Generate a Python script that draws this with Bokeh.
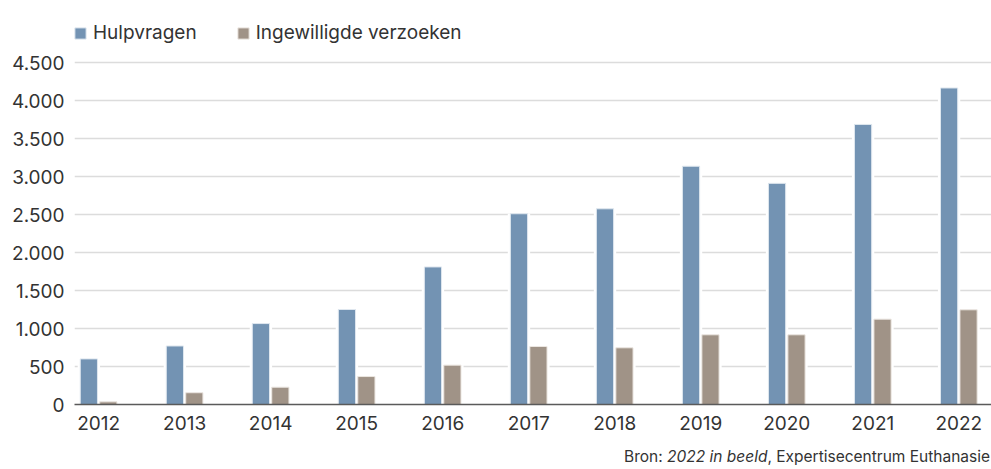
from bokeh.plotting import figure
from bokeh.models import (ColumnDataSource, Range1d, FixedTicker, Legend, LegendItem, Div)
from bokeh.layouts import column
from bokeh.transform import dodge
from bokeh.embed import file_html
from bokeh.resources import INLINE

years = [2012, 2013, 2014, 2015, 2016, 2017, 2018, 2019, 2020, 2021, 2022]
hulpvragen = [600, 770, 1065, 1250, 1810, 2510, 2575, 3135, 2910, 3685, 4165]
ingewilligd = [35, 155, 228, 368, 518, 763, 746, 917, 917, 1123, 1246]
y_ticks = [0, 500, 1000, 1500, 2000, 2500, 3000, 3500, 4000, 4500]
y_tick_labels = ["0", "500", "1.000", "1.500", "2.000", "2.500", "3.000", "3.500", "4.000", "4.500"]
series_names = ["Hulpvragen", "Ingewilligde verzoeken"]
source_html = "Bron: <i>2022 in beeld</i>, Expertisecentrum Euthanasie"

BLUE = "#7393b3"
BROWN = "#a09387"
TEXT = "#333333"
FONT = "Inter"
FS = "19px"

src = ColumnDataSource(dict(year=years, hulp=hulpvragen, ingew=ingewilligd))

# frame spans from the canvas top down to the x axis; space above 4.500 holds the legend
p = figure(width=991, height=440, output_backend="svg", toolbar_location=None,
           x_range=Range1d(2011.72, 2022.38), y_range=Range1d(0, 5316),
           min_border_left=74, min_border_right=0, min_border_top=0, min_border_bottom=36)
p.outline_line_color = None
p.background_fill_color = "white"
p.border_fill_color = "white"

# white backing to break gridlines around bars
for off, col in [(-0.113, "hulp"), (0.113, "ingew")]:
    p.vbar(x=dodge("year", off, range=p.x_range), top=col, width=0.26, bottom=0,
           source=src, fill_color="white", line_color=None)

r1 = p.vbar(x=dodge("year", -0.113, range=p.x_range), top="hulp", width=0.2, bottom=0,
            source=src, fill_color=BLUE, line_color="#dfe7ef", line_width=1)
r2 = p.vbar(x=dodge("year", 0.113, range=p.x_range), top="ingew", width=0.2, bottom=0,
            source=src, fill_color=BROWN, line_color="#ebe6e1", line_width=1)

# axes
p.xaxis.ticker = FixedTicker(ticks=years)
p.xaxis.major_tick_line_color = None
p.xaxis.minor_tick_line_color = None
p.xaxis.axis_line_color = "#5a5a5a"
p.xaxis.axis_line_width = 1.5
p.xaxis.major_label_text_font = FONT
p.xaxis.major_label_text_font_size = FS
p.xaxis.major_label_text_color = TEXT
p.xaxis.major_label_standoff = 5

p.yaxis.ticker = FixedTicker(ticks=y_ticks)
p.yaxis.major_label_overrides = {t: l for t, l in zip(y_ticks, y_tick_labels)}
p.yaxis.major_tick_line_color = None
p.yaxis.minor_tick_line_color = None
p.yaxis.axis_line_color = None
p.yaxis.major_label_text_font = FONT
p.yaxis.major_label_text_font_size = FS
p.yaxis.major_label_text_color = TEXT
p.yaxis.major_label_standoff = 4

p.xgrid.grid_line_color = None
p.ygrid.grid_line_color = "#dcdcdc"
p.ygrid.grid_line_width = 1.5

legend = Legend(items=[LegendItem(label=series_names[0], renderers=[r1]),
                       LegendItem(label=series_names[1], renderers=[r2])],
                orientation="horizontal", location=(-1, 359),
                glyph_width=14, glyph_height=14, label_height=25,
                label_standoff=6, spacing=39, padding=0, margin=0,
                label_text_font=FONT, label_text_font_size=FS,
                label_text_baseline="alphabetic",
                label_text_color=TEXT, border_line_color=None,
                background_fill_alpha=0)
p.add_layout(legend)

src_div = Div(text=source_html, width=991, height=29, margin=0,
              styles={"font-family": FONT, "font-size": "15.5px", "color": TEXT,
                      "text-align": "right", "padding-top": "8px", "padding-right": "1px",
                      "line-height": "18px", "box-sizing": "border-box", "width": "991px"})

layout = column(p, src_div, spacing=0)
open("out.html", "w").write(file_html(layout, INLINE))
